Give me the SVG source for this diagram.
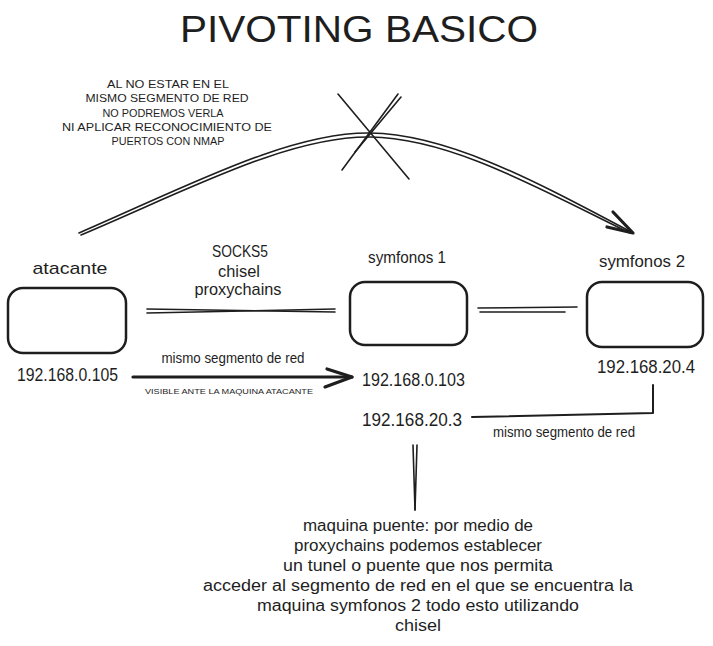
<svg xmlns="http://www.w3.org/2000/svg" width="713" height="646" viewBox="0 0 713 646">
  <style>
    text { font-family: "Liberation Sans", "DejaVu Sans", sans-serif; fill: #1e1e1e; }
    .title { font-size: 36px; }
    .lbl { font-size: 17px; }
    .ip { font-size: 18px; }
    .small { font-size: 14px; }
    .note { font-size: 11px; }
    .tiny { font-size: 8px; }
    .para { font-size: 16px; }
    .box { fill: none; stroke: #1e1e1e; stroke-width: 2.5; }
    .ln { fill: none; stroke: #1e1e1e; stroke-width: 1.6; stroke-linecap: round; stroke-linejoin: round; }
    .thick { fill: none; stroke: #1e1e1e; stroke-width: 3.2; stroke-linecap: round; stroke-linejoin: round; }
  </style>
  <rect width="713" height="646" fill="#ffffff"/>

  <g id="title">
    <text class="title" x="359" y="42" text-anchor="middle" textLength="358" lengthAdjust="spacingAndGlyphs">PIVOTING BASICO</text>
  </g>

  <g id="note-nmap" text-anchor="middle">
    <text class="note" x="168" y="88" textLength="122" lengthAdjust="spacingAndGlyphs">AL NO ESTAR EN EL</text>
    <text class="note" x="167" y="102" textLength="163" lengthAdjust="spacingAndGlyphs">MISMO SEGMENTO DE RED</text>
    <text class="note" x="163" y="117" textLength="121" lengthAdjust="spacingAndGlyphs">NO PODREMOS VERLA</text>
    <text class="note" x="167" y="131" textLength="210" lengthAdjust="spacingAndGlyphs">NI APLICAR RECONOCIMIENTO DE</text>
    <text class="note" x="168" y="145" textLength="113" lengthAdjust="spacingAndGlyphs">PUERTOS CON NMAP</text>
  </g>

  <g id="node-atacante">
    <text class="lbl" x="70" y="274" text-anchor="middle" textLength="75" lengthAdjust="spacingAndGlyphs">atacante</text>
    <rect class="box" x="8" y="288" width="118" height="65" rx="15"/>
    <text class="ip" x="17" y="381" textLength="101" lengthAdjust="spacingAndGlyphs">192.168.0.105</text>
  </g>

  <g id="node-symfonos1">
    <text class="lbl" x="407" y="263" text-anchor="middle" textLength="78" lengthAdjust="spacingAndGlyphs">symfonos 1</text>
    <rect class="box" x="350" y="282" width="117" height="63" rx="15"/>
    <text class="ip" x="362" y="386" textLength="103" lengthAdjust="spacingAndGlyphs">192.168.0.103</text>
    <text class="ip" x="362" y="426" textLength="100" lengthAdjust="spacingAndGlyphs">192.168.20.3</text>
  </g>

  <g id="node-symfonos2">
    <text class="lbl" x="642" y="267" text-anchor="middle" textLength="86" lengthAdjust="spacingAndGlyphs">symfonos 2</text>
    <rect class="box" x="587" y="282" width="116" height="65" rx="15"/>
    <text class="ip" x="597" y="373" textLength="98" lengthAdjust="spacingAndGlyphs">192.168.20.4</text>
  </g>

  <g id="connectors">
    <!-- curved blocked arrow -->
    <path class="ln" d="M79,233 C190,185 290,132 370,133 S540,184 633,233"/>
    <path class="ln" d="M81,235 C192,188 290,136 370,137 S538,188 630,233"/>
    <path class="thick" d="M613,212 L633,233 L607,227"/>
    <!-- cross -->
    <path class="ln" d="M338,94 L409,179"/>
    <path class="ln" d="M398,94 L342,170"/>
    <path class="ln" d="M401,97 L355,152"/>
    <!-- atacante - symfonos 1 -->
    <path class="ln" d="M147,309 L335,312"/>
    <path class="ln" d="M147,313 L335,309"/>
    <!-- symfonos 1 - symfonos 2 -->
    <path class="ln" d="M478,308 L577,307"/>
    <path class="ln" d="M480,312 L565,312"/>
    <!-- arrow 192.168.0.105 -> 192.168.0.103 -->
    <path class="thick" d="M133,377 L352,377"/>
    <path class="thick" d="M327,369 L352,377 L325,387"/>
    <!-- elbow 192.168.20.3 - 192.168.20.4 -->
    <path class="ln" d="M472,417 L653,413 L653,385" style="stroke-width:2"/>
    <!-- vertical line to paragraph -->
    <path class="ln" d="M413,445 L415,510"/>
    <path class="ln" d="M417,445 L415,510"/>
  </g>

  <g id="labels" text-anchor="middle">
    <text class="lbl" x="240" y="257" textLength="56" lengthAdjust="spacingAndGlyphs">SOCKS5</text>
    <text class="lbl" x="239" y="277" textLength="42" lengthAdjust="spacingAndGlyphs">chisel</text>
    <text class="lbl" x="238" y="295" textLength="87" lengthAdjust="spacingAndGlyphs">proxychains</text>
    <text class="small" x="233" y="363" textLength="143" lengthAdjust="spacingAndGlyphs">mismo segmento de red</text>
    <text class="tiny" x="229" y="394" textLength="168" lengthAdjust="spacingAndGlyphs">VISIBLE ANTE LA MAQUINA ATACANTE</text>
    <text class="small" x="564" y="437" textLength="142" lengthAdjust="spacingAndGlyphs">mismo segmento de red</text>
  </g>

  <g id="note-puente" text-anchor="middle">
    <text class="para" x="418" y="531" textLength="230" lengthAdjust="spacingAndGlyphs">maquina puente: por medio de</text>
    <text class="para" x="418" y="551" textLength="248" lengthAdjust="spacingAndGlyphs">proxychains podemos establecer</text>
    <text class="para" x="418" y="571" textLength="270" lengthAdjust="spacingAndGlyphs">un tunel o puente que nos permita</text>
    <text class="para" x="418" y="591" textLength="430" lengthAdjust="spacingAndGlyphs">acceder al segmento de red en el que se encuentra la</text>
    <text class="para" x="418" y="611" textLength="322" lengthAdjust="spacingAndGlyphs">maquina symfonos 2 todo esto utilizando</text>
    <text class="para" x="418" y="631" textLength="46" lengthAdjust="spacingAndGlyphs">chisel</text>
  </g>
</svg>
